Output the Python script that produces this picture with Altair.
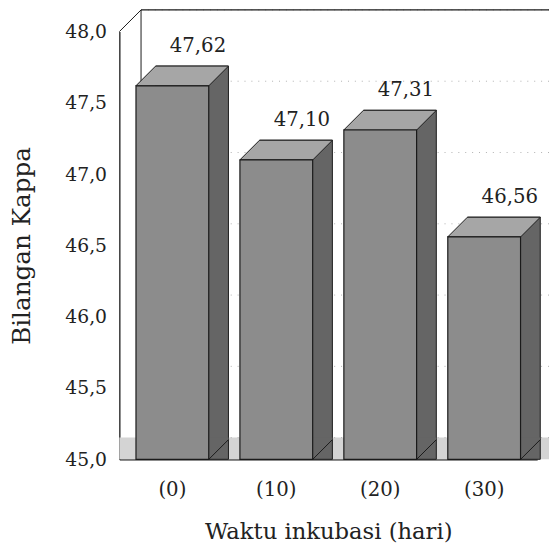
import altair as alt
import pandas as pd

# ---- data ----
categories = ["(0)", "(10)", "(20)", "(30)"]
kappa = [47.62, 47.10, 47.31, 46.56]
y_ticks = [45.0, 45.5, 46.0, 46.5, 47.0, 47.5, 48.0]
value_labels = [f"{v:.2f}".replace(".", ",") for v in kappa]

# ---- style ----
W, H = 424, 434
DEPTH = 20
WALL = 22
HALF = 37
FRONT = "#8c8c8c"
TOP = "#a6a6a6"
SIDE = "#656565"
FLOOR = "#d4d4d4"
INK = "#1a1a1a"
FONT = "DejaVu Serif"

bars = pd.DataFrame({"cat": categories, "val": kappa, "label": value_labels,
                     "base": [y_ticks[0]] * len(kappa)})
grid = pd.DataFrame({"t": y_ticks})
frame_top = pd.DataFrame({"t": [y_ticks[-1]]})
frame_bot = pd.DataFrame({"t": [y_ticks[0]]})

yscale = alt.Scale(domain=[y_ticks[0], y_ticks[-1]], zero=False, nice=False)
xscale = alt.Scale(domain=categories, paddingInner=0.3, paddingOuter=0.16)

x_axis = alt.Axis(title="Waktu inkubasi (hari)", labelAngle=0, ticks=False,
                  labelPadding=21, titlePadding=21, labelFont=FONT, titleFont=FONT,
                  labelFontSize=20, titleFontSize=23)
y_axis = alt.Axis(title="Bilangan Kappa", values=y_ticks,
                  labelExpr="replace(format(datum.value, '.1f'), '.', ',')",
                  ticks=False, grid=False, labelPadding=13, titlePadding=31,
                  labelFont=FONT, titleFont=FONT, labelFontSize=19, titleFontSize=25)

x_cat = alt.X("cat:N", scale=xscale, sort=categories, axis=x_axis)
y_val = alt.Y("val:Q", scale=yscale, axis=y_axis)
y_base = alt.Y("base:Q", scale=yscale, axis=y_axis)
y_t = alt.Y("t:Q", scale=yscale, axis=y_axis)

# floor strip
floor = alt.Chart(frame_bot).mark_rect(fill=FLOOR).encode(
    x=alt.value(0), x2=alt.value(W + 12), y=y_t, y2=alt.value(H - WALL))

# back wall grid (dotted)
gridlines = alt.Chart(grid).mark_rule(yOffset=-WALL, color="#b0b0b0", strokeDash=[1, 6],
                                      strokeWidth=1).encode(
    y=y_t, x=alt.value(WALL), x2=alt.value(W + 12))

# back wall frame
wall_top = alt.Chart(frame_top).mark_rule(yOffset=-WALL, color=INK, strokeWidth=1.3).encode(
    y=y_t, x=alt.value(WALL), x2=alt.value(W + 12))
wall_left = alt.Chart(frame_top).mark_rule(color=INK, strokeWidth=1).encode(
    x=alt.value(WALL), y=alt.value(-WALL), y2=alt.value(H - WALL))
corner = alt.Chart(frame_top).mark_rule(color=INK, strokeWidth=1).encode(
    x=alt.value(0), y=alt.value(0), x2=alt.value(WALL), y2=alt.value(-WALL))

base = alt.Chart(bars)

back = base.mark_bar(xOffset=DEPTH, yOffset=-DEPTH, fill=SIDE, stroke=INK, strokeWidth=1).encode(
    x=x_cat, y=y_val, y2=alt.Y2("base:Q"))

foot_fill = base.mark_point(
    shape=f"M {HALF} 0 L {HALF + DEPTH} {-DEPTH} L {HALF + DEPTH} {-DEPTH - 2} L {HALF} {-DEPTH - 2} Z",
    size=4, filled=True, fill=SIDE, strokeWidth=0, opacity=1).encode(x=x_cat, y=y_base)
foot_edge = base.mark_point(
    shape=f"M {HALF} 0 L {HALF + DEPTH} {-DEPTH}",
    size=4, filled=False, stroke=INK, strokeWidth=1, opacity=1).encode(x=x_cat, y=y_base)

top = base.mark_point(
    shape=f"M {-HALF} 0 L {HALF} 0 L {HALF + DEPTH} {-DEPTH} L {-HALF + DEPTH} {-DEPTH} Z",
    size=4, filled=True, fill=TOP, stroke=INK, strokeWidth=1, opacity=1).encode(x=x_cat, y=y_val)

front = base.mark_bar(fill=FRONT, stroke=INK, strokeWidth=1.2).encode(
    x=x_cat, y=y_val, y2=alt.Y2("base:Q"))

labels = base.mark_text(dx=26, dy=-30, baseline="bottom", font=FONT, fontSize=20,
                        color="#222").encode(x=x_cat, y=y_val, text="label:N")

chart = alt.layer(floor, gridlines, wall_top, wall_left, corner,
                  back, foot_fill, foot_edge, top, front, labels).properties(
    width=W, height=H,
    autosize=alt.AutoSizeParams(type="none"),
    padding={"left": 113, "top": 20, "right": 12, "bottom": 84},
    background="white",
).configure_view(stroke=None).configure_axis(
    labelColor="#222", titleColor="#222", titleFontWeight="normal",
    domainColor=INK, domainWidth=1.3,
)

chart.save("out.html", embed_options={"renderer": "svg", "actions": False})
